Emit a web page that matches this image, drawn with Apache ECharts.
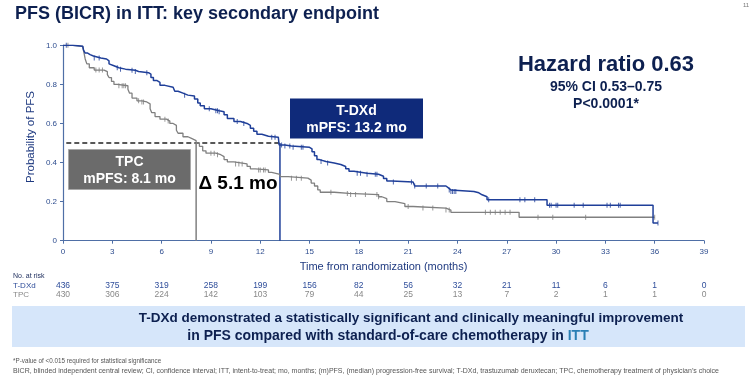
<!DOCTYPE html>
<html><head><meta charset="utf-8">
<script src="https://cdn.jsdelivr.net/npm/echarts@6/dist/echarts.min.js"></script>
<style>html,body{margin:0;padding:0;background:#fff}#c{width:755px;height:378px}</style>
</head><body><div id="c"></div>
<script>
// ---------------- DATA ----------------
const xTicks = [0,3,6,9,12,15,18,21,24,27,30,33,36,39];
const tdxdTime = [0,0.6,1.2,1.25,1.35,1.5,1.65,1.85,2.3,2.65,2.8,2.9,3.1,3.4,3.8,4.4,4.6,5.2,5.35,5.5,5.7,5.9,6.2,6.7,6.8,7.0,7.3,7.6,8.0,8.2,8.35,8.6,9.0,9.5,9.8,10.0,10.4,10.8,11.2,11.4,11.6,11.8,12.1,12.5,13.1,13.15,13.5,13.9,15.0,15.15,15.3,15.45,15.6,16.0,16.5,16.9,17.2,17.4,17.7,18.5,19.2,19.5,19.7,20.0,21.3,21.4,23.3,23.45,23.6,25.0,25.3,25.5,25.8,29.45,35.9,36.2];
const tdxdSurv = [1.0,0.995,0.99,0.975,0.96,0.952,0.945,0.935,0.93,0.92,0.905,0.895,0.885,0.878,0.872,0.866,0.86,0.852,0.835,0.82,0.81,0.795,0.785,0.78,0.765,0.755,0.745,0.74,0.725,0.705,0.69,0.675,0.665,0.66,0.645,0.625,0.61,0.6,0.59,0.575,0.56,0.545,0.535,0.53,0.52,0.49,0.485,0.478,0.47,0.455,0.435,0.415,0.405,0.398,0.39,0.38,0.368,0.355,0.345,0.34,0.33,0.318,0.305,0.3,0.29,0.28,0.27,0.26,0.252,0.245,0.235,0.225,0.21,0.182,0.09,0.09];
const tpcTime = [0,0.6,1.2,1.28,1.35,1.45,1.6,1.9,2.5,2.7,2.8,2.95,3.1,3.3,3.95,4.05,4.2,4.5,4.8,5.1,5.3,5.4,5.6,5.9,6.3,6.5,6.7,6.9,7.0,7.3,7.6,7.85,8.1,8.3,8.5,8.7,9.3,9.6,9.8,10.0,10.4,11.2,11.4,11.7,12.5,12.7,13.2,13.7,14.9,15.1,15.3,15.5,15.65,16.5,17.4,19.2,19.4,19.7,20.2,20.8,21.3,23.3,23.6,27.75,36.0];
const tpcSurv = [1.0,0.995,0.99,0.96,0.93,0.905,0.885,0.873,0.865,0.85,0.835,0.815,0.8,0.793,0.775,0.755,0.73,0.716,0.71,0.7,0.675,0.655,0.635,0.622,0.612,0.6,0.59,0.565,0.55,0.532,0.522,0.512,0.5,0.483,0.46,0.448,0.44,0.43,0.415,0.403,0.393,0.38,0.368,0.362,0.35,0.34,0.328,0.32,0.31,0.295,0.28,0.26,0.248,0.242,0.236,0.225,0.215,0.2,0.19,0.175,0.167,0.157,0.145,0.12,0.12];
const tdxdCensor = [0.2,1.9,2.2,3.3,3.5,4.2,4.4,5.1,7.4,8.9,9.3,9.4,9.5,10.6,11.0,12.7,12.9,13.3,13.5,13.8,14.0,14.5,14.6,15.7,16.1,17.9,18.1,18.5,19.0,19.1,20.1,21.2,21.4,22.1,22.8,23.5,23.6,23.7,23.8,23.9,25.9,27.8,28.1,28.7,29.6,29.7,30.0,30.1,31.1,31.65,33.1,33.3,33.8,33.9,36.2];
const tpcCensor = [0.3,2.0,2.2,2.4,3.4,3.6,3.7,3.8,4.6,4.8,4.9,6.2,6.4,9.0,9.2,9.4,10.5,10.7,10.9,11.9,12.0,12.2,12.3,13.9,14.2,14.5,16.3,17.3,17.5,17.8,18.4,19.1,19.2,21.0,21.9,22.5,23.3,23.5,25.7,26.0,26.3,26.6,26.9,27.2,28.9,29.8,31.8,36.0];
const riskTDXd = [436,375,319,258,199,156,82,56,32,21,11,6,1,0];
const riskTPC  = [430,306,224,142,103,79,44,25,13,7,2,1,1,0];
const medianTDXd = 13.2, medianTPC = 8.1;
const dashStart = 0.2;

// ---------------- HELPERS ----------------
const NAVY = '#0d2050', BLUE = '#1f3f99', GRAY = '#808080', AXIS = '#4f6fa6', TICK = '#2e4d8f';
const FONT = '"Liberation Sans", Arial, sans-serif';
function pairs(t, s){ return t.map((v,i)=>[v, s[i]]); }
function survAt(t, times, surv){ let v = surv[0]; for (let i=0;i<times.length;i++){ if (times[i] <= t) v = surv[i]; } return v; }

const chart = echarts.init(document.getElementById('c'), null, {renderer:'canvas'});
chart.setOption({
  animation:false,
  textStyle:{fontFamily:FONT},
  grid:{left:63, right:51, top:45.3, bottom:137.3, containLabel:false},
  xAxis:{type:'value', min:0, max:39, interval:3,
    name:'Time from randomization (months)', nameLocation:'middle', nameGap:21,
    nameTextStyle:{color:'#1f3a80', fontSize:11},
    axisLine:{lineStyle:{color:AXIS, width:1.2}}, axisTick:{length:3, lineStyle:{color:AXIS}},
    axisLabel:{color:TICK, fontSize:8, margin:7}, splitLine:{show:false}},
  yAxis:{type:'value', min:0, max:1, interval:0.2,
    axisLine:{show:true, lineStyle:{color:AXIS, width:1.2}}, axisTick:{show:true, length:3, lineStyle:{color:AXIS}},
    axisLabel:{color:TICK, fontSize:8, margin:6, formatter:v=> v===0 ? '0' : v.toFixed(1)}, splitLine:{show:false}},
  series:[
    {name:'TPC', type:'line', step:'end', data:pairs(tpcTime,tpcSurv), symbol:'none', lineStyle:{color:GRAY, width:1.3}, z:3},
    {name:'T-DXd', type:'line', step:'end', data:pairs(tdxdTime,tdxdSurv), symbol:'none', lineStyle:{color:BLUE, width:1.5}, z:4},
    {type:'scatter', data:tpcCensor.map(t=>[t, survAt(t,tpcTime,tpcSurv)]), symbol:'rect', symbolSize:[1,5], itemStyle:{color:GRAY}, z:3},
    {type:'scatter', data:tdxdCensor.map(t=>[t, survAt(t,tdxdTime,tdxdSurv)]), symbol:'rect', symbolSize:[1,5], itemStyle:{color:BLUE}, z:4},
    {type:'line', data:[[dashStart,0.5],[medianTDXd,0.5]], symbol:'none', lineStyle:{color:'#222', width:1.5, type:[5,3]}, z:2},
    {type:'line', data:[[medianTPC,0.5],[medianTPC,0]], symbol:'none', lineStyle:{color:GRAY, width:1.5}, z:2},
    {type:'line', data:[[medianTDXd,0.5],[medianTDXd,0]], symbol:'none', lineStyle:{color:BLUE, width:1.5}, z:2}
  ]
});

// ---------------- ANNOTATIONS ----------------
const g = [];
function txt(x,y,text,o){ g.push({type:'text', x:x, y:y, silent:true, z:10, style:Object.assign({text:text, fill:NAVY, fontFamily:FONT, fontSize:10, align:'left', verticalAlign:'middle'}, o||{})}); }
txt(15, 14, 'PFS (BICR) in ITT: key secondary endpoint', {fontSize:18, fontWeight:'bold'});
txt(746, 5, '11', {fontSize:6, fill:'#777', align:'center'});
txt(606, 65, 'Hazard ratio 0.63', {fontSize:22, fontWeight:'bold', align:'center'});
txt(606, 87, '95% CI 0.53\u20130.75', {fontSize:14, fontWeight:'bold', align:'center'});
txt(606, 104, 'P<0.0001*', {fontSize:14, fontWeight:'bold', align:'center'});
// T-DXd box
g.push({type:'rect', shape:{x:290, y:98.5, width:133, height:40}, style:{fill:'#0f2a7a'}, z:9});
txt(356.5, 111, 'T-DXd', {fontSize:14, fontWeight:'bold', fill:'#fff', align:'center'});
txt(356.5, 128, 'mPFS: 13.2 mo', {fontSize:14, fontWeight:'bold', fill:'#fff', align:'center'});
// TPC box
g.push({type:'rect', shape:{x:68.5, y:149.5, width:122, height:40}, style:{fill:'#6b6b6b', stroke:'#a8a8a8', lineWidth:1}, z:9});
txt(129.5, 162, 'TPC', {fontSize:14, fontWeight:'bold', fill:'#fff', align:'center'});
txt(129.5, 179.5, 'mPFS: 8.1 mo', {fontSize:14, fontWeight:'bold', fill:'#fff', align:'center'});
txt(238, 184, '\u0394 5.1 mo', {fontSize:19, fontWeight:'bold', fill:'#000', align:'center'});
// y axis name
g.push({type:'text', x:31, y:137, rotation:Math.PI/2, silent:true, z:10, style:{text:'Probability of PFS', fill:'#1f3a80', fontSize:11.5, fontFamily:FONT, align:'center', verticalAlign:'middle'}});
// risk table
txt(13, 276, 'No. at risk', {fontSize:7, fill:'#1a2a5a'});
txt(13, 286, 'T-DXd', {fontSize:8, fill:'#2e4d9a'});
txt(13, 295, 'TPC', {fontSize:8, fill:'#888'});
xTicks.forEach((t,i)=>{
  const px = chart.convertToPixel({xAxisIndex:0}, t);
  txt(px, 286, String(riskTDXd[i]), {fontSize:8.5, fill:'#2e4d9a', align:'center'});
  txt(px, 295, String(riskTPC[i]), {fontSize:8.5, fill:'#888', align:'center'});
});
// conclusion box
g.push({type:'rect', shape:{x:12, y:306, width:733, height:41}, style:{fill:'#d6e6fa'}, z:8});
txt(411, 318.5, 'T-DXd demonstrated a statistically significant and clinically meaningful improvement', {fontSize:13.5, fontWeight:'bold', align:'center'});
g.push({type:'text', x:388, y:336, silent:true, z:10, style:{text:'{a|in PFS compared with standard-of-care chemotherapy in }{b|ITT}', align:'center', verticalAlign:'middle',
  rich:{a:{fontSize:14, fontWeight:'bold', fill:NAVY, fontFamily:FONT}, b:{fontSize:14, fontWeight:'bold', fill:'#2a7fb5', fontFamily:FONT}}}});
// footnotes
txt(13, 361, '*P-value of <0.015 required for statistical significance', {fontSize:6.3, fill:'#555'});
txt(13, 371, 'BICR, blinded independent central review; CI, confidence interval; ITT, intent-to-treat; mo, months; (m)PFS, (median) progression-free survival; T-DXd, trastuzumab deruxtecan; TPC, chemotherapy treatment of physician\u2019s choice', {fontSize:7, fill:'#555'});
chart.setOption({graphic:g});
</script></body></html>
